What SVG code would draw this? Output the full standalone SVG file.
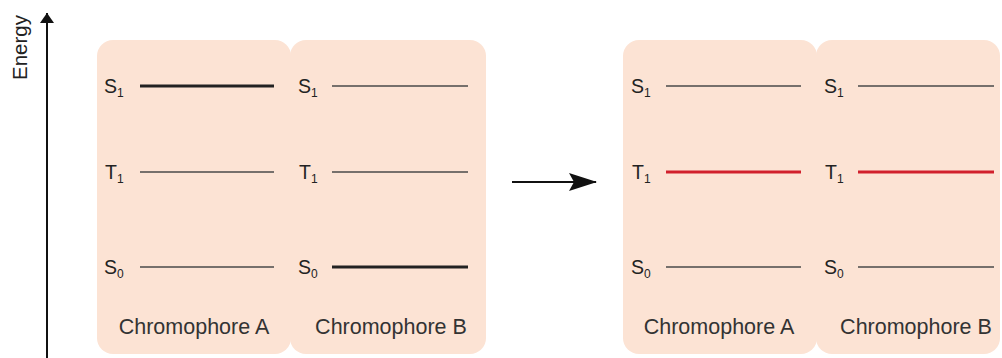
<svg xmlns="http://www.w3.org/2000/svg" width="1002" height="358" viewBox="0 0 1002 358">
<style>
.box{fill:#fce3d4;}
.lbl{font-family:"Liberation Sans",Arial,sans-serif;font-size:19.5px;fill:#222;}
.sub{font-size:12px;}
.name{font-family:"Liberation Sans",Arial,sans-serif;font-size:21.5px;fill:#333;text-anchor:middle;}
.thin{stroke:#4a4a4a;stroke-width:1.4;}
.thick{stroke:#222;stroke-width:3;}
.red{stroke:#d1202c;stroke-width:3;}
</style>
<defs>
<marker id="ah" viewBox="0 0 10 14" refX="10" refY="7" markerWidth="10" markerHeight="14" markerUnits="userSpaceOnUse" orient="auto">
<path d="M0,0 L14,7 L0,14 Z" fill="#111" transform="scale(0.72,1)"/>
</marker>
<marker id="ah2" viewBox="0 0 28 18" refX="27" refY="9" markerWidth="28" markerHeight="18" markerUnits="userSpaceOnUse" orient="auto">
<path d="M0,0 L28,9 L0,18 L5,9 Z" fill="#111"/>
</marker>
</defs>
<rect width="1002" height="358" fill="#ffffff"/>
<g id="axis">
<line x1="47" y1="358" x2="47" y2="13" stroke="#111" stroke-width="2" marker-end="url(#ah)"/>
<text class="lbl" style="font-size:20.5px" transform="translate(27,47.5) rotate(-90)" text-anchor="middle">Energy</text>
</g>
<g id="chromA1">
<rect class="box" x="97" y="40" width="194" height="314" rx="16"/>
<text class="lbl" x="104" y="93">S<tspan class="sub" dy="4">1</tspan></text>
<line class="thick" x1="140" y1="86" x2="274" y2="86"/>
<text class="lbl" x="105" y="179">T<tspan class="sub" dy="4">1</tspan></text>
<line class="thin" x1="140" y1="172" x2="274" y2="172"/>
<text class="lbl" x="104" y="274">S<tspan class="sub" dy="4">0</tspan></text>
<line class="thin" x1="140" y1="267" x2="274" y2="267"/>
<text class="name" x="194" y="334">Chromophore A</text>
</g>
<g id="chromB1">
<rect class="box" x="290" y="40" width="196" height="314" rx="16"/>
<text class="lbl" x="298" y="93">S<tspan class="sub" dy="4">1</tspan></text>
<line class="thin" x1="332" y1="86" x2="468" y2="86"/>
<text class="lbl" x="299" y="179">T<tspan class="sub" dy="4">1</tspan></text>
<line class="thin" x1="332" y1="172" x2="468" y2="172"/>
<text class="lbl" x="298" y="274">S<tspan class="sub" dy="4">0</tspan></text>
<line class="thick" x1="332" y1="267" x2="468" y2="267"/>
<text class="name" x="391" y="334">Chromophore B</text>
</g>
<g id="chromA2">
<rect class="box" x="623" y="40" width="194" height="314" rx="16"/>
<text class="lbl" x="631" y="93">S<tspan class="sub" dy="4">1</tspan></text>
<line class="thin" x1="666" y1="86" x2="801" y2="86"/>
<text class="lbl" x="632" y="179">T<tspan class="sub" dy="4">1</tspan></text>
<line class="red" x1="666" y1="172" x2="801" y2="172"/>
<text class="lbl" x="631" y="274">S<tspan class="sub" dy="4">0</tspan></text>
<line class="thin" x1="666" y1="267" x2="801" y2="267"/>
<text class="name" x="719" y="334">Chromophore A</text>
</g>
<g id="chromB2">
<rect class="box" x="816" y="40" width="184" height="314" rx="16"/>
<text class="lbl" x="824" y="93">S<tspan class="sub" dy="4">1</tspan></text>
<line class="thin" x1="858" y1="86" x2="994" y2="86"/>
<text class="lbl" x="825" y="179">T<tspan class="sub" dy="4">1</tspan></text>
<line class="red" x1="858" y1="172" x2="994" y2="172"/>
<text class="lbl" x="824" y="274">S<tspan class="sub" dy="4">0</tspan></text>
<line class="thin" x1="858" y1="267" x2="994" y2="267"/>
<text class="name" x="916" y="334">Chromophore B</text>
</g>
<g id="connectors">
<line x1="512" y1="182" x2="596" y2="182" stroke="#111" stroke-width="2.2" marker-end="url(#ah2)"/>
</g>
</svg>
